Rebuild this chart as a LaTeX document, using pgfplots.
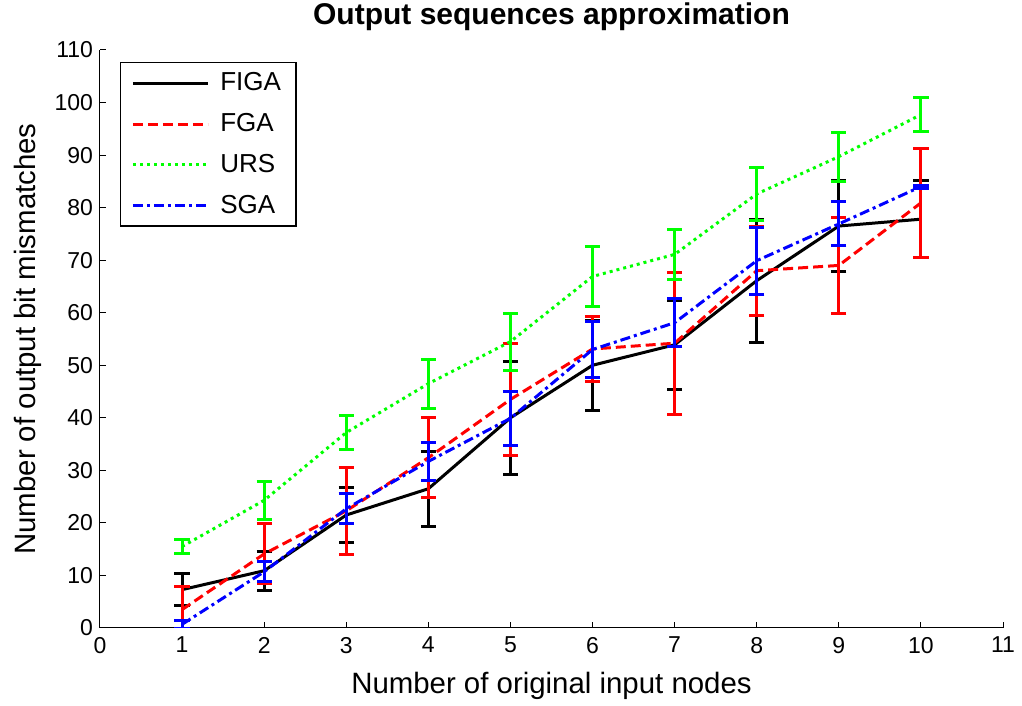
\documentclass[border=0pt]{standalone}
\usepackage{fontspec}
\setmainfont{Liberation Sans}
\usepackage{pgfplots}
\pgfplotsset{compat=1.18}
\begin{document}
\begin{tikzpicture}
\path[use as bounding box] (-50pt,-39pt) rectangle (461pt,314pt);
\begin{axis}[
  at={(0,0)}, anchor=south west,
  scale only axis, width=451.5pt, height=289pt,
  xmin=0, xmax=11, ymin=0, ymax=110,
  xtick={0,1,...,11}, ytick={0,10,...,110},
  axis x line*=bottom, axis y line*=left,
  tick align=inside, major tick length=3pt,
  axis line style={line width=0.5pt},
  tick style={line width=0.5pt, black},
  /pgf/number format/assume math mode=true,
  ticklabel style={font=\fontsize{11.5pt}{14pt}\selectfont},
  xticklabel style={yshift=-1pt},
  xlabel={Number of original input nodes},
  ylabel={Number of output bit mismatches},
  label style={font=\fontsize{14.7pt}{17pt}\selectfont},
  xlabel style={at={(axis description cs:0.5,-0.1003)}, anchor=center},
  ylabel style={at={(axis description cs:-0.0797,0.5)}, anchor=center},
  title={\bfseries Output sequences approximation},
  title style={font=\fontsize{15pt}{17pt}\selectfont, at={(axis description cs:0.5,1.0433)}, anchor=base, yshift=-6pt},
  legend style={at={(axis cs:0.24,107.7)}, anchor=north west, draw=black, line width=0.6pt,
    font=\fontsize{13pt}{15pt}\selectfont, row sep=5.8pt, inner xsep=5.5pt, inner ysep=3pt},
  legend cell align=left,
  legend image code/.code={\draw[#1] (0pt,0pt) -- (37.5pt,0pt); \path (41pt,0pt);},
  every axis plot/.append style={line width=1.5pt},
  error bars/error bar style={line width=1.5pt, solid},
  error bars/error mark options={rotate=90, mark size=3.8pt, line width=1.5pt, solid},
]
\addplot[black, solid, error bars/.cd, y dir=both, y explicit] coordinates {
 (1,7.3) +- (0,3.1)
 (2,10.9) +- (0,3.7)
 (3,21.5) +- (0,5.3)
 (4,26.5) +- (0,7.1)
 (5,40.0) +- (0,10.8)
 (6,50.0) +- (0,8.6)
 (7,53.9) +- (0,8.5)
 (8,66.1) +- (0,11.7)
 (9,76.5) +- (0,8.6)
 (10,77.8) +- (0,7.3)
};
\addlegendentry{FIGA}
\addplot[red, dash pattern=on 5pt off 2.5pt, error bars/.cd, y dir=both, y explicit] coordinates {
 (1,3.5) +- (0,4.4)
 (2,14.1) +- (0,5.7)
 (3,22.3) +- (0,8.25)
 (4,32.4) +- (0,7.6)
 (5,43.5) +- (0,10.7)
 (6,53.1) +- (0,6.1)
 (7,54.2) +- (0,13.5)
 (8,68.0) +- (0,8.5)
 (9,69.0) +- (0,9.2)
 (10,80.9) +- (0,10.3)
};
\addlegendentry{FGA}
\addplot[green, dash pattern=on 1.5pt off 2pt, error bars/.cd, y dir=both, y explicit] coordinates {
 (1,15.5) +- (0,1.3)
 (2,24.3) +- (0,3.65)
 (3,37.2) +- (0,3.15)
 (4,46.5) +- (0,4.65)
 (5,54.5) +- (0,5.4)
 (6,66.9) +- (0,5.65)
 (7,71.1) +- (0,4.7)
 (8,82.6) +- (0,5.1)
 (9,89.7) +- (0,4.65)
 (10,97.7) +- (0,3.3)
};
\addlegendentry{URS}
\addplot[blue, dash pattern=on 5pt off 2pt on 1.5pt off 2pt, error bars/.cd, y dir=both, y explicit] coordinates {
 (1,0.7) +- (0,0.7)
 (2,10.7) +- (0,1.9)
 (3,22.7) +- (0,2.9)
 (4,31.7) +- (0,3.6)
 (5,39.9) +- (0,5.2)
 (6,53.0) +- (0,5.4)
 (7,58.1) +- (0,4.6)
 (8,69.9) +- (0,6.4)
 (9,76.9) +- (0,4.2)
 (10,84.0) +- (0,0.3)
};
\addlegendentry{SGA}
\end{axis}
\end{tikzpicture}
\end{document}
